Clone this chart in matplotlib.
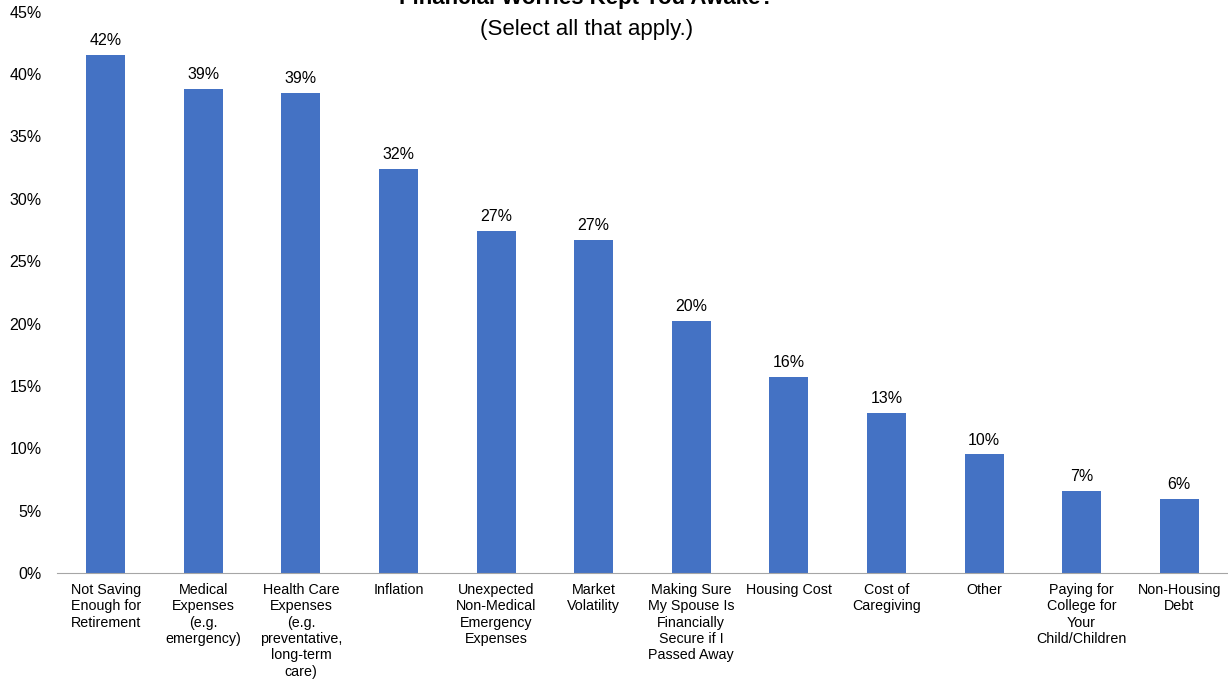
import matplotlib
matplotlib.use("Agg")
import matplotlib.pyplot as plt
from matplotlib.ticker import PercentFormatter

plt.rcParams['font.family'] = ['Liberation Sans', 'DejaVu Sans']

# categorias e percentuais
categorias = [
    'Not Saving\nEnough for\nRetirement',
    'Medical\nExpenses\n(e.g.\nemergency)',
    'Health Care\nExpenses\n(e.g.\npreventative,\nlong-term\ncare)',
    'Inflation',
    'Unexpected\nNon-Medical\nEmergency\nExpenses',
    'Market\nVolatility',
    'Making Sure\nMy Spouse Is\nFinancially\nSecure if I\nPassed Away',
    'Housing Cost',
    'Cost of\nCaregiving',
    'Other',
    'Paying for\nCollege for\nYour\nChild/Children',
    'Non-Housing\nDebt',
]
valores = [41.5, 38.8, 38.5, 32.4, 27.4, 26.7, 20.2, 15.7, 12.8, 9.5, 6.6, 5.9]
rotulos = ['42%', '39%', '39%', '32%', '27%', '27%', '20%', '16%', '13%', '10%', '7%', '6%']
yticks = [0, 5, 10, 15, 20, 25, 30, 35, 40, 45]

fig = plt.figure(figsize=(12.28, 6.85), dpi=100)
ax = fig.add_axes([0.0464, 0.1635, 0.9536, 0.8195])

x = range(len(categorias))
barras = ax.bar(x, valores, width=0.4, color='#4472C4')

for b, r in zip(barras, rotulos):
    ax.annotate(r, (b.get_x() + b.get_width() / 2, b.get_height()),
                xytext=(0, 5), textcoords='offset points',
                ha='center', va='bottom', fontsize=11.5)

ax.set_xlim(-0.5, len(categorias) - 0.5)
ax.set_ylim(0, 45)
ax.set_yticks(yticks)
ax.yaxis.set_major_formatter(PercentFormatter(decimals=0))
ax.set_xticks(list(x))
ax.set_xticklabels(categorias, fontsize=10.3, va='top', linespacing=1.22)

ax.tick_params(axis='y', length=0, pad=11, labelsize=11.5)
ax.tick_params(axis='x', length=0, pad=7)
for s in ['left', 'right', 'top']:
    ax.spines[s].set_visible(False)
ax.spines['bottom'].set_color('#a6a6a6')

# título (cortado no topo, como na imagem original)
fig.text(0.478, 1.002, 'Financial Worries Kept You Awake?', ha='center', va='center',
         fontsize=16, fontweight='bold')
fig.text(0.478, 0.957, '(Select all that apply.)', ha='center', va='center', fontsize=16)

fig.savefig('out.png', dpi=100)
